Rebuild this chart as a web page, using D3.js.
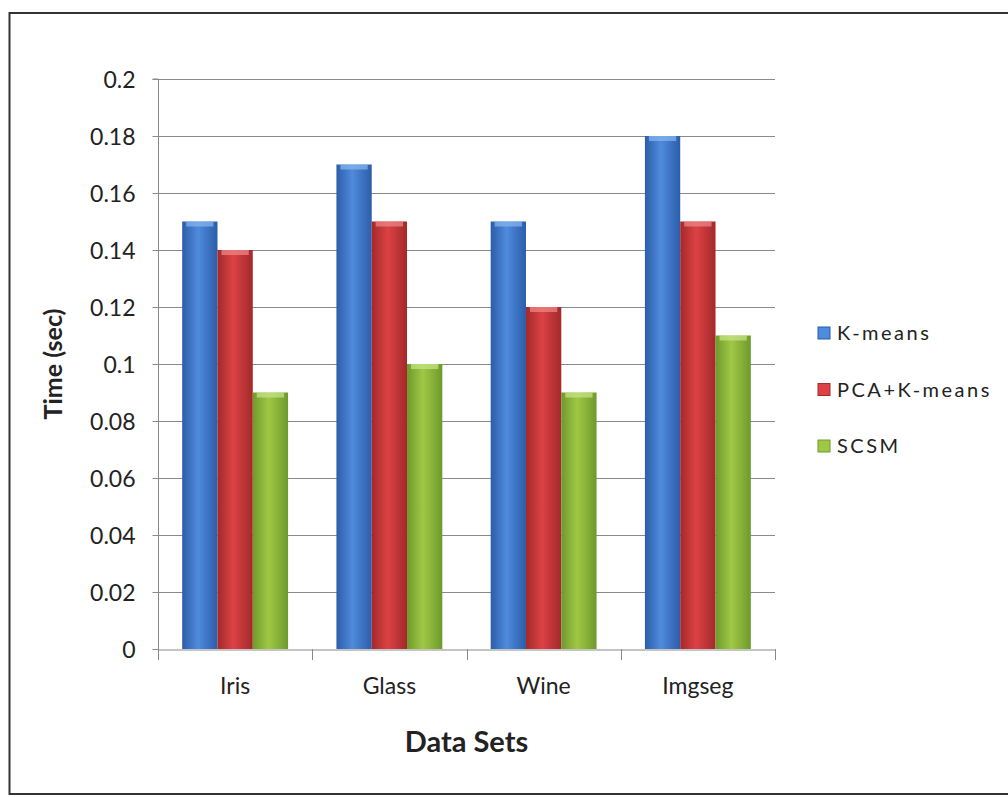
<!DOCTYPE html>
<html><head><meta charset="utf-8">
<script src="https://cdn.jsdelivr.net/npm/d3@7"></script>
<style>body{margin:0;background:#fff}svg{display:block}text{font-family:Lato,"Open Sans",sans-serif;fill:#222}</style>
</head><body><svg id="c" width="1008" height="797"></svg>
<script>
const categories = ["Iris", "Glass", "Wine", "Imgseg"];
const seriesNames = ["K-means", "PCA+K-means", "SCSM"];
const kmeans = [0.15, 0.17, 0.15, 0.18];
const pcaKmeans = [0.14, 0.15, 0.12, 0.15];
const scsm = [0.09, 0.10, 0.09, 0.11];
const yTicks = [0, 0.02, 0.04, 0.06, 0.08, 0.1, 0.12, 0.14, 0.16, 0.18, 0.2];
const yTickLabels = ["0", "0.02", "0.04", "0.06", "0.08", "0.1", "0.12", "0.14", "0.16", "0.18", "0.2"];
const seriesValues = [kmeans, pcaKmeans, scsm];

const colors = [
  {edge:"#2c5da9", mid:"#4f8bdc", cap:"#8ab8f0"},
  {edge:"#a3292b", mid:"#dc4244", cap:"#f08a8a"},
  {edge:"#6e9a2c", mid:"#a0c845", cap:"#c8e68a"}
];

const svg = d3.select("#c");
const defs = svg.append("defs");
colors.forEach((c,i)=>{
  const g = defs.append("linearGradient").attr("id","g"+i).attr("x1","0").attr("x2","1").attr("y1","0").attr("y2","0");
  g.append("stop").attr("offset","0").attr("stop-color",c.edge);
  g.append("stop").attr("offset","0.45").attr("stop-color",c.mid);
  g.append("stop").attr("offset","1").attr("stop-color",c.edge);
});

// outer frame
svg.append("rect").attr("x",9.5).attr("y",13).attr("width",1020).attr("height",781)
  .attr("fill","none").attr("stroke","#333").attr("stroke-width",2);

const pLeft = 158, pRight = 775, pTop = 79, pBottom = 649;
const y = d3.scaleLinear().domain([0, 0.2]).range([pBottom, pTop]);
const x0 = d3.scaleBand().domain(categories).range([pLeft, pRight]).padding(0);
const x1 = d3.scaleBand().domain(seriesNames).range([0, x0.bandwidth()]).paddingInner(0).paddingOuter(0.685);

// grid lines
svg.append("g").selectAll("line").data(yTicks.filter(d=>d>0)).join("line")
  .attr("x1", pLeft).attr("x2", pRight).attr("y1", d=>Math.round(y(d))+0.5).attr("y2", d=>Math.round(y(d))+0.5)
  .attr("stroke","#8a8a8a").attr("stroke-width",1);

// y axis
const yAxis = d3.axisLeft(y).tickValues(yTicks).tickFormat((d,i)=>yTickLabels[i]).tickSize(6).tickPadding(17);
const ya = svg.append("g").attr("transform",`translate(${pLeft+0.5},0)`).call(yAxis);
ya.select(".domain").attr("stroke","#8a8a8a").attr("d",`M-6,${y(0.2)}H0V${pBottom}`);
ya.selectAll(".tick line").attr("stroke","#8a8a8a");
ya.selectAll(".tick text").style("font-size","23px").style("font-family","Lato").attr("fill","#222").attr("dy","0.35em");

// bars
const groups = svg.append("g").selectAll("g").data(categories).join("g")
  .attr("transform", d=>`translate(${x0(d)},0)`);
groups.selectAll("rect.bar").data((c,ci)=>seriesNames.map((s,si)=>({s, si, v: seriesValues[si][ci]}))).join("rect")
  .attr("class","bar")
  .attr("x", d=>x1(d.s)).attr("width", x1.bandwidth())
  .attr("y", d=>y(d.v)).attr("height", d=>pBottom - y(d.v))
  .attr("fill", d=>`url(#g${d.si})`);
groups.selectAll("rect.cap").data((c,ci)=>seriesNames.map((s,si)=>({s, si, v: seriesValues[si][ci]}))).join("rect")
  .attr("class","cap")
  .attr("x", d=>x1(d.s)+4).attr("width", x1.bandwidth()-8)
  .attr("y", d=>y(d.v)).attr("height", 5)
  .attr("fill", d=>colors[d.si].cap).attr("opacity",0.7);

// x axis
const xAxis = d3.axisBottom(x0).tickSize(0).tickPadding(28);
const xa = svg.append("g").attr("transform",`translate(0,${pBottom+0.5})`).call(xAxis);
xa.select(".domain").attr("stroke","#8a8a8a");
xa.selectAll(".tick text").style("font-size","23px").style("font-family","Lato").attr("fill","#222");
const bounds = categories.map(c=>x0(c)).concat([x0(categories[categories.length-1])+x0.bandwidth()]);
svg.append("g").selectAll("line").data(bounds).join("line")
  .attr("x1", d=>Math.round(d)+0.5).attr("x2", d=>Math.round(d)+0.5)
  .attr("y1", pBottom).attr("y2", pBottom+11).attr("stroke","#8a8a8a");

// axis titles
svg.append("text").attr("x",(pLeft+pRight)/2).attr("y",752).attr("text-anchor","middle")
  .style("font-size","29px").style("font-weight","bold").text("Data Sets");
svg.append("text").attr("transform",`translate(62,${(pTop+pBottom)/2}) rotate(-90)`).attr("text-anchor","middle")
  .style("font-size","25px").style("font-weight","bold").text("Time (sec)");

// legend
const lg = svg.append("g").selectAll("g").data(seriesNames).join("g")
  .attr("transform",(d,i)=>`translate(818,${333 + i*56.5})`);
lg.append("rect").attr("x",0).attr("y",-6).attr("width",12).attr("height",12)
  .attr("fill",(d,i)=>colors[i].mid).attr("stroke",(d,i)=>colors[i].edge);
lg.append("text").attr("x",19).attr("y",0).attr("dy","0.35em")
  .style("font-size","20px").style("letter-spacing","2.5px").text(d=>d);
</script></body></html>
